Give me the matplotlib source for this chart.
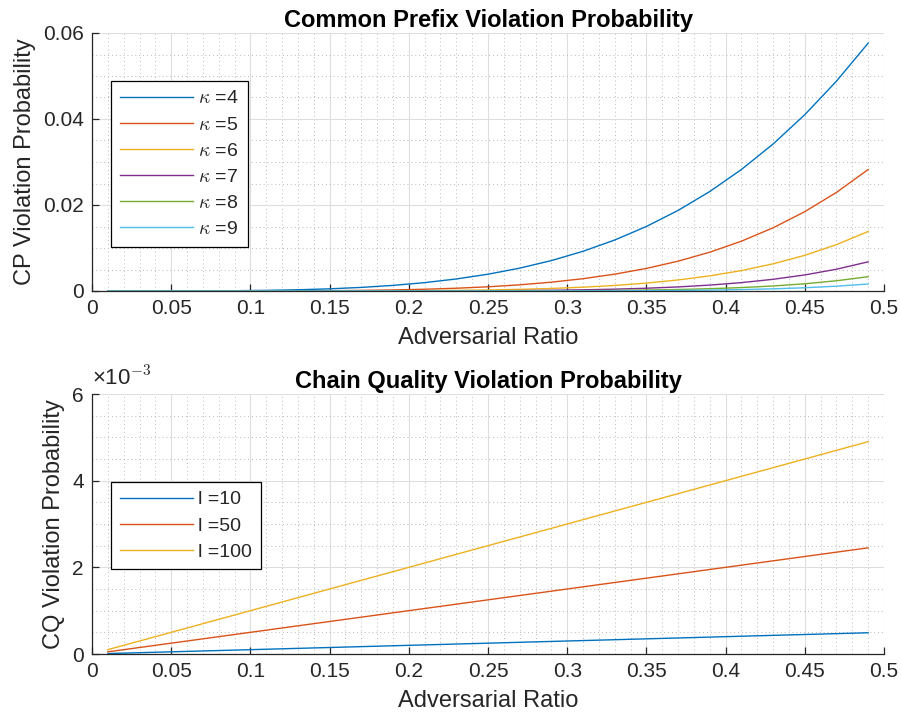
import matplotlib
matplotlib.use("Agg")
import matplotlib.pyplot as plt
from matplotlib.ticker import MultipleLocator, FuncFormatter

plt.rcParams['font.family'] = ['Liberation Sans', 'DejaVu Sans']
plt.rcParams['mathtext.fontset'] = 'cm'

# ---------------- data ----------------
x_cp = [0.01, 0.03, 0.05, 0.07, 0.09, 0.11, 0.13, 0.15, 0.17, 0.19, 0.21, 0.23, 0.25,
        0.27, 0.29, 0.31, 0.33, 0.35, 0.37, 0.39, 0.41, 0.43, 0.45, 0.47, 0.49]
kappas = [4, 5, 6, 7, 8, 9]
cp_k4 = [0.0, 8.1e-7, 6.25e-6, 2.40e-5, 6.56e-5, 1.464e-4, 2.856e-4, 5.063e-4, 8.352e-4,
         1.3032e-3, 1.9448e-3, 2.7984e-3, 3.9063e-3, 5.3144e-3, 7.0728e-3, 9.2352e-3,
         0.011859, 0.015006, 0.018742, 0.023134, 0.028258, 0.034188, 0.041006, 0.048797, 0.057648]
cp_k5 = [0.0, 0.0, 3.1e-7, 1.68e-6, 5.9e-6, 1.61e-5, 3.71e-5, 7.59e-5, 1.420e-4, 2.476e-4,
         4.084e-4, 6.436e-4, 9.766e-4, 1.4349e-3, 2.0511e-3, 2.8629e-3, 3.9135e-3, 5.2522e-3,
         6.9344e-3, 9.0224e-3, 0.011586, 0.014701, 0.018453, 0.022935, 0.028248]
cp_k6 = [0.0, 0.0, 0.0, 1.2e-7, 5.3e-7, 1.77e-6, 4.83e-6, 1.139e-5, 2.414e-5, 4.705e-5,
         8.577e-5, 1.4804e-4, 2.4414e-4, 3.8742e-4, 5.9482e-4, 8.8750e-4, 1.29147e-3,
         1.83827e-3, 2.56573e-3, 3.51874e-3, 4.75010e-3, 6.32136e-3, 8.30377e-3, 0.010779, 0.013841]
cp_k7 = [0.0, 0.0, 0.0, 0.0, 0.0, 2.0e-7, 6.3e-7, 1.71e-6, 4.10e-6, 8.94e-6, 1.801e-5,
         3.405e-5, 6.104e-5, 1.0460e-4, 1.7250e-4, 2.7513e-4, 4.2619e-4, 6.4339e-4,
         9.4932e-4, 1.37231e-3, 1.94754e-3, 2.71818e-3, 3.73670e-3, 5.06623e-3, 6.78223e-3]
cp_k8 = [0.0, 0.0, 0.0, 0.0, 0.0, 0.0, 0.0, 2.6e-7, 7.0e-7, 1.70e-6, 3.78e-6, 7.83e-6,
         1.526e-5, 2.824e-5, 5.003e-5, 8.529e-5, 1.4064e-4, 2.2519e-4, 3.5125e-4, 5.3520e-4,
         7.9849e-4, 1.16882e-3, 1.68151e-3, 2.38113e-3, 3.32329e-3]
cp_k9 = [0.0, 0.0, 0.0, 0.0, 0.0, 0.0, 0.0, 0.0, 1.2e-7, 3.2e-7, 7.9e-7, 1.80e-6, 3.81e-6,
         7.63e-6, 1.451e-5, 2.644e-5, 4.641e-5, 7.881e-5, 1.2996e-4, 2.0873e-4, 3.2738e-4,
         5.0259e-4, 7.5668e-4, 1.11913e-3, 1.62841e-3]
cp_series = [cp_k4, cp_k5, cp_k6, cp_k7, cp_k8, cp_k9]

x_cq = [0.01, 0.10, 0.20, 0.30, 0.40, 0.49]
ls_cq = [10, 50, 100]
cq_l10 = [1.0e-5, 1.0e-4, 2.0e-4, 3.0e-4, 4.0e-4, 4.9e-4]
cq_l50 = [5.0e-5, 5.0e-4, 1.0e-3, 1.5e-3, 2.0e-3, 2.45e-3]
cq_l100 = [1.0e-4, 1.0e-3, 2.0e-3, 3.0e-3, 4.0e-3, 4.9e-3]
cq_series = [cq_l10, cq_l50, cq_l100]

colors = ['#0072BD', '#D95319', '#EDB120', '#7E2F8E', '#77AC30', '#4DBEEE']
txt = '#262626'

fig = plt.figure(figsize=(9.01, 7.24), dpi=100)
ax1 = fig.add_axes([92/901, 1-291/724, 792/901, 258/724])
ax2 = fig.add_axes([92/901, 1-654/724, 792/901, 260/724])


def style(ax):
    ax.set_xlim(0, 0.5)
    ax.xaxis.set_major_locator(MultipleLocator(0.05))
    ax.xaxis.set_minor_locator(MultipleLocator(0.01))
    ax.xaxis.set_major_formatter(FuncFormatter(lambda v, p: ('%g' % round(v, 4))))
    ax.grid(True, which='major', color='#dedede', lw=0.8, ls='-')
    ax.grid(True, which='minor', color='#b8b8b8', lw=0.7, ls=(0, (1, 3)))
    ax.set_axisbelow(True)
    for s in ['top', 'right']:
        ax.spines[s].set_visible(False)
    for s in ['left', 'bottom']:
        ax.spines[s].set_color(txt)
        ax.spines[s].set_linewidth(0.9)
    ax.tick_params(which='major', direction='in', length=5, width=0.9, color=txt,
                   labelcolor=txt, labelsize=15, pad=6)
    ax.tick_params(which='minor', length=0)
    ax.set_xlabel('Adversarial Ratio', fontsize=17, color=txt, labelpad=6)


def make_legend(ax, anchor):
    leg = ax.legend(loc='upper left', bbox_to_anchor=anchor, fontsize=14,
                    frameon=True, fancybox=False, framealpha=1, edgecolor='black',
                    handlelength=3.75, handletextpad=0.3, labelspacing=0.44,
                    borderpad=0.45, borderaxespad=0)
    leg.get_frame().set_linewidth(0.9)
    for t in leg.get_texts():
        t.set_color(txt)
    return leg


for k, ys, c in zip(kappas, cp_series, colors):
    ax1.plot(x_cp, ys, color=c, lw=1.0, label=r'$\kappa$ =%d' % k)
style(ax1)
ax1.set_ylim(0, 0.06)
ax1.yaxis.set_major_locator(MultipleLocator(0.02))
ax1.yaxis.set_minor_locator(MultipleLocator(0.005))
ax1.yaxis.set_major_formatter(FuncFormatter(lambda v, p: ('%g' % round(v, 4))))
ax1.set_ylabel('CP Violation Probability', fontsize=17, color=txt, labelpad=5)
ax1.set_title('Common Prefix Violation Probability', fontsize=17, fontweight='bold',
              color='black', pad=4)
make_legend(ax1, ((111-92)/792, (291-81)/258))

for l, ys, c in zip(ls_cq, cq_series, colors):
    ax2.plot(x_cq, ys, color=c, lw=1.0, label='l =%d' % l)
style(ax2)
ax2.set_ylim(0, 0.006)
ax2.yaxis.set_major_locator(MultipleLocator(0.002))
ax2.yaxis.set_minor_locator(MultipleLocator(0.0005))
ax2.yaxis.set_major_formatter(FuncFormatter(lambda v, p: ('%g' % round(v * 1000, 4))))
ax2.set_ylabel('CQ Violation Probability', fontsize=17, color=txt, labelpad=5)
ax2.set_title('Chain Quality Violation Probability', fontsize=17, fontweight='bold',
              color='black', pad=4)
ax2.text(0.0, 1.012, '\u00d710$^{-3}$', transform=ax2.transAxes, fontsize=16,
         color=txt, ha='left', va='bottom')
make_legend(ax2, ((111-92)/792, (654-482)/260))

fig.savefig('out.png', dpi=100, facecolor='white')
